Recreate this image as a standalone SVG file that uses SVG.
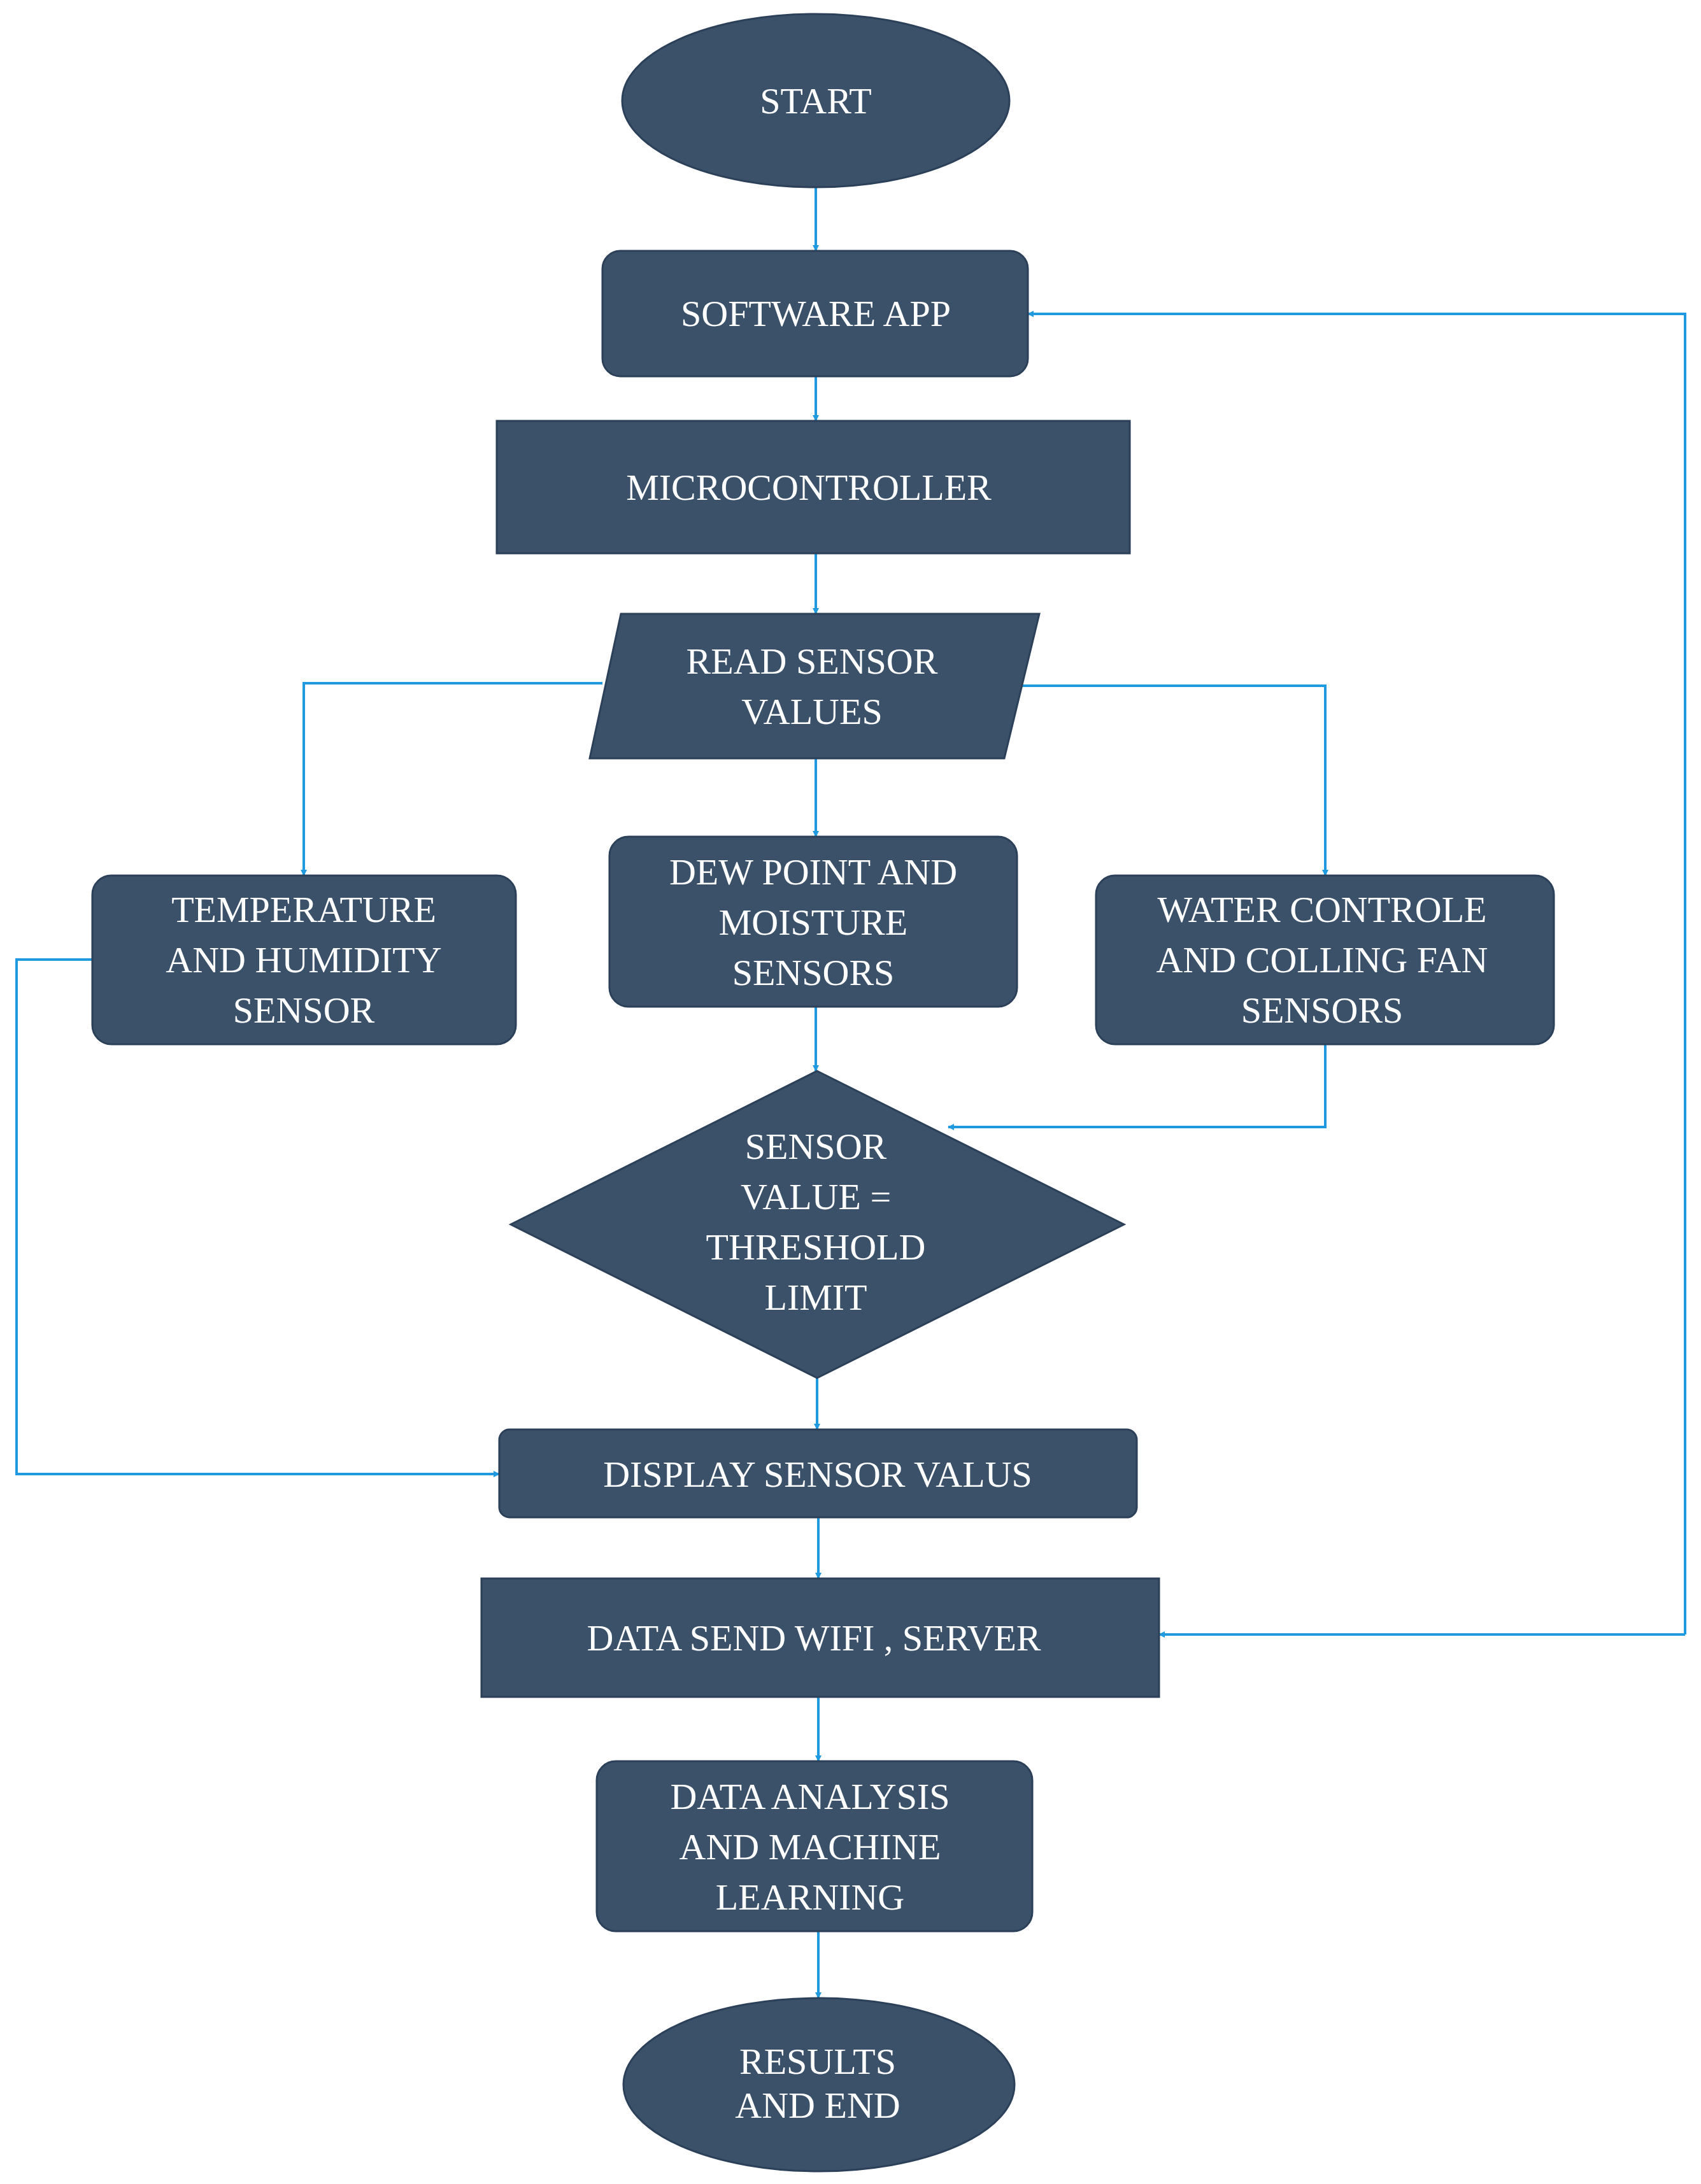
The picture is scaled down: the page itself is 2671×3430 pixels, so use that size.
<svg xmlns="http://www.w3.org/2000/svg" width="2671" height="3430" viewBox="0 0 2671 3430">
<defs>
<marker id="ah" markerWidth="10" markerHeight="10" refX="9" refY="5" orient="auto" markerUnits="userSpaceOnUse" viewBox="0 0 10 10">
<path d="M0,0 L10,5 L0,10 z" fill="#1f9ae0"/>
</marker>
<style>
.n{fill:#3a5169;stroke:#2c4159;stroke-width:3}
.t{font-family:"Liberation Serif",serif;font-size:58px;fill:#ffffff;text-anchor:middle}
.c{fill:none;stroke:#1f9ae0;stroke-width:4;marker-end:url(#ah)}
.c2{fill:none;stroke:#1f9ae0;stroke-width:4}
</style>
</defs>
<rect width="2671" height="3430" fill="#ffffff"/>
<g id="connectors">
<path class="c" d="M1281,294 L1281,394"/>
<path class="c" d="M1281,591 L1281,661"/>
<path class="c" d="M1281,869 L1281,964"/>
<path class="c" d="M1281,1191 L1281,1314"/>
<path class="c" d="M946,1073 L477,1073 L477,1375"/>
<path class="c" d="M1605,1077 L2081,1077 L2081,1375"/>
<path class="c" d="M1281,1581 L1281,1682"/>
<path class="c" d="M2081,1640 L2081,1770 L1489,1770"/>
<path class="c" d="M1283,2164 L1283,2245"/>
<path class="c" d="M145,1507 L26,1507 L26,2315 L784,2315"/>
<path class="c" d="M1285,2383 L1285,2479"/>
<path class="c" d="M2646,2567 L1820,2567"/>
<path class="c" d="M2646,2567 L2646,493 L1614,493"/>
<path class="c" d="M1285,2665 L1285,2766"/>
<path class="c" d="M1285,3033 L1285,3138"/>
</g>
<g id="start"><ellipse class="n" cx="1281" cy="158" rx="304" ry="136"/><text class="t" x="1281" y="178">START</text></g>
<g id="software"><rect class="n" x="946" y="394" width="668" height="197" rx="28"/><text class="t" x="1281" y="512">SOFTWARE  APP</text></g>
<g id="micro"><rect class="n" x="780" y="661" width="994" height="208"/><text class="t" x="1270" y="785">MICROCONTROLLER</text></g>
<g id="read"><polygon class="n" points="975,964 1632,964 1577,1191 926,1191"/><text class="t" x="1275" y="1058">READ  SENSOR</text><text class="t" x="1275" y="1137">VALUES</text></g>
<g id="temp"><rect class="n" x="145" y="1375" width="665" height="265" rx="30"/><text class="t" x="477" y="1448">TEMPERATURE</text><text class="t" x="477" y="1527">AND HUMIDITY</text><text class="t" x="477" y="1606">SENSOR</text></g>
<g id="dew"><rect class="n" x="957" y="1314" width="640" height="267" rx="30"/><text class="t" x="1277" y="1389">DEW  POINT  AND</text><text class="t" x="1277" y="1468">MOISTURE</text><text class="t" x="1277" y="1547">SENSORS</text></g>
<g id="water"><rect class="n" x="1721" y="1375" width="719" height="265" rx="30"/><text class="t" x="2076" y="1448">WATER  CONTROLE</text><text class="t" x="2076" y="1527">AND COLLING  FAN</text><text class="t" x="2076" y="1606">SENSORS</text></g>
<g id="decision"><polygon class="n" points="1283,1682 1765,1923 1283,2164 802,1923"/><text class="t" x="1281" y="1820">SENSOR</text><text class="t" x="1281" y="1899">VALUE  =</text><text class="t" x="1281" y="1978">THRESHOLD</text><text class="t" x="1281" y="2057">LIMIT</text></g>
<g id="display"><rect class="n" x="784" y="2245" width="1001" height="138" rx="16"/><text class="t" x="1284" y="2335">DISPLAY   SENSOR  VALUS</text></g>
<g id="datasend"><rect class="n" x="756" y="2479" width="1064" height="186"/><text class="t" x="1278" y="2592">DATA SEND  WIFI , SERVER</text></g>
<g id="analysis"><rect class="n" x="937" y="2766" width="684" height="267" rx="30"/><text class="t" x="1272" y="2841">DATA ANALYSIS</text><text class="t" x="1272" y="2920">AND MACHINE</text><text class="t" x="1272" y="2999">LEARNING</text></g>
<g id="results"><ellipse class="n" cx="1286" cy="3274" rx="307" ry="136"/><text class="t" x="1284" y="3257">RESULTS</text><text class="t" x="1284" y="3326">AND END</text></g>
</svg>
